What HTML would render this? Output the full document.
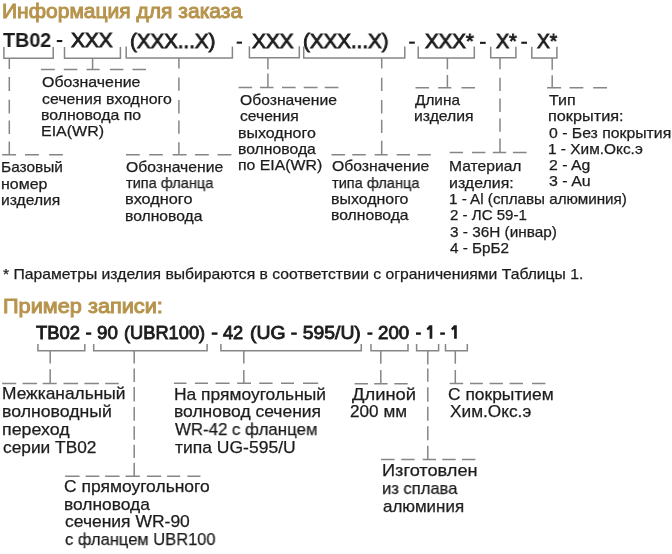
<!DOCTYPE html><html><head><meta charset='utf-8'><style>*{margin:0;padding:0}html,body{width:672px;height:554px;overflow:hidden;background:#fff}body{position:relative;font-family:'Liberation Sans',sans-serif;color:#1c1c1c}div{position:absolute;white-space:nowrap;transform-origin:0 0;will-change:transform}</style></head><body><svg width='672' height='554' style='position:absolute;left:0;top:0'><path d='M3.9 47.0V58.2H53.2V47.0M64.5 47.0V58.2H120.4V47.0M126.2 46.5V58.0H232.4V46.5M249.4 46.3V57.8H299.3V46.3M303.7 46.5V58.0H404.8V46.5M418.2 46.6V58.0H474.3V46.6M490.7 46.7V57.8H515.9V46.7M531.8 46.7V58.0H556.9V46.7M9.3 58V68.9M9.3 77.1V91M9.3 99.7V113.6M9.3 120.5V134M9.3 141.6V154.7M92.6 58V69.4M178.9 58V68.6M178.9 77.4V90.8M178.9 100.1V113.4M178.9 120.4V133.7M178.9 142.2V154.7M267.9 58V69.3M267.9 73.4V87.6M381.7 58V68.6M381.7 77.7V91M381.7 100.1V113.4M381.7 119.8V133.1M381.7 140.7V154.7M447.4 58V69.3M447.4 75.1V87.7M500.0 58V69.2M500.0 77.7V91M500.0 98.6V111.9M500.0 118.5V131.8M500.0 138.4V152.5M552.2 58V69.8M552.2 75.2V87.9M2.1 154.7H16.1M25 154.7H38.9M49.1 154.7H62.9M41 69.4H54.8M63.8 69.4H77.4M86.5 69.4H99.6M109.9 69.4H123.4M132.5 69.4H146M126 154.7H139.8M149.2 154.7H162.8M172.6 154.7H186.6M194.9 154.7H208.8M217.5 154.7H231.4M238.6 87.6H252.2M259.9 87.6H273.5M282 87.6H295.6M303.7 87.6H317.6M324.7 87.6H338.4M331.5 154.7H345M352.3 154.7H365.8M374.6 154.7H387.7M396.7 154.7H410M417.5 154.7H430.8M415.5 87.7H429M438.1 87.7H451.3M461.5 87.7H475M449.7 152.5H463M472 152.5H485.4M492.8 152.5H506.2M512.9 152.5H526.6M547.1 87.7H561.1M569.5 87.7H583.3M593.2 87.7H607M37.9 344.0V350.8H84.8V344.0M93.7 344.0V350.8H207.1V344.0M220.9 344.0V350.8H361.25V344.0M371.0 344.0V350.8H408.0V344.0M416.6 344.0V350.8H438.6V344.0M445.5 344.0V350.8H467.3V344.0M50.2 350.8V363.6M50.2 369.25V383.4M134.2 350.8V363.5M134.2 368.4V382M134.2 387V401.5M134.2 407V420.8M134.2 426.2V439.8M134.2 444.8V458M134.2 462.8V476.3M243.8 350.8V363.6M243.8 370V383.3M380.8 350.8V363.7M380.8 370V383.8M427.8 350.8V364.5M427.8 368.4V381.8M427.8 387.2V401.7M427.8 406.7V420.8M427.8 426.2V440.3M427.8 445.7V459.5M455.3 350.8V363.7M455.3 370V383.6M2.1 383.4H16.25M22.5 383.4H37.1M42.7 383.4H56.7M63.5 383.4H78.1M84.4 383.4H99M105.2 383.4H118.75M65.2 476.3H79.5M85.7 476.3H99.3M105.2 476.3H119.5M125.5 476.3H139.8M146.9 476.3H161.2M167.1 476.3H180.2M187.4 476.3H200.5M173.9 383.3H186.5M194.9 383.3H208M215.6 383.3H229.6M237.2 383.3H251M259.2 383.3H272.6M281 383.3H294M303 383.3H318.2M354.6 383.8H368M374.2 383.8H387.6M394.3 383.8H407.7M381 459.5H394.6M401.25 459.5H414.6M422.7 459.5H436M442.3 459.5H455.7M462 459.5H475.4M449.8 383.6H463.2M470 383.6H482.9M489.6 383.6H502.9M509.6 383.6H523M532 383.6H545.4' fill='none' stroke='#868686' stroke-width='1.5'/><rect x='56.8' y='40.0' width='5.5' height='2.1' fill='#1c1c1c'/><rect x='236.7' y='41.6' width='5.3' height='2.1' fill='#1c1c1c'/><rect x='409.1' y='41.6' width='5.7' height='2.1' fill='#1c1c1c'/><rect x='480' y='41.8' width='5.7' height='2.1' fill='#1c1c1c'/><rect x='521.3' y='41.7' width='5.7' height='2.1' fill='#1c1c1c'/><rect x='86.0' y='332.4' width='5.3' height='2.4' fill='#1c1c1c'/><rect x='211.7' y='332.4' width='5.8' height='2.4' fill='#1c1c1c'/><rect x='367.4' y='332.4' width='5.0' height='2.4' fill='#1c1c1c'/><rect x='416.0' y='332.4' width='4.9' height='2.4' fill='#1c1c1c'/><rect x='440.2' y='332.4' width='4.7' height='2.4' fill='#1c1c1c'/><path transform='translate(0 0)' d='M429.6 325.3H432.3V338.8H429.6V328.9L427.9 330.4L426.6 328.6Z' fill='#1c1c1c'/><path transform='translate(24.5 0)' d='M429.6 325.3H432.3V338.8H429.6V328.9L427.9 330.4L426.6 328.6Z' fill='#1c1c1c'/></svg><div style='left:2.40px;top:-0.70px;font-size:21px;line-height:24px;color:#b7944c;transform:scaleX(1.0012);-webkit-text-stroke:1.0px #b7944c;'>Информация для заказа</div><div style='left:2.77px;top:293.80px;font-size:21px;line-height:24px;color:#b7944c;transform:scaleX(1.0340);-webkit-text-stroke:1.0px #b7944c;'>Пример записи:</div><div style='left:2.80px;top:28.50px;font-size:20px;line-height:23px;font-weight:700;transform:scaleX(0.9854);'>TB02</div><div style='left:71.00px;top:27.60px;font-size:21px;line-height:24px;transform:scaleX(0.9905);-webkit-text-stroke:0.9px #1c1c1c;'>XXX</div><div style='left:130.32px;top:29.20px;font-size:21px;line-height:24px;transform:scaleX(0.9756);-webkit-text-stroke:0.9px #1c1c1c;'>(XXX...X)</div><div style='left:252.40px;top:29.20px;font-size:21px;line-height:24px;transform:scaleX(0.9881);-webkit-text-stroke:0.9px #1c1c1c;'>XXX</div><div style='left:303.32px;top:29.20px;font-size:21px;line-height:24px;transform:scaleX(0.9779);-webkit-text-stroke:0.9px #1c1c1c;'>(XXX...X)</div><div style='left:424.80px;top:29.20px;font-size:21px;line-height:24px;transform:scaleX(0.9725);-webkit-text-stroke:0.9px #1c1c1c;'>XXX*</div><div style='left:495.60px;top:29.30px;font-size:21px;line-height:24px;transform:scaleX(0.9391);-webkit-text-stroke:0.9px #1c1c1c;'>X*</div><div style='left:536.90px;top:29.30px;font-size:21px;line-height:24px;transform:scaleX(0.9130);-webkit-text-stroke:0.9px #1c1c1c;'>X*</div><div style='left:35.70px;top:322.50px;font-size:18px;line-height:21px;transform:scaleX(1.0209);-webkit-text-stroke:0.85px #1c1c1c;'>TB02</div><div style='left:97.30px;top:322.50px;font-size:18px;line-height:21px;transform:scaleX(1.0400);-webkit-text-stroke:0.85px #1c1c1c;'>90</div><div style='left:124.30px;top:322.50px;font-size:18px;line-height:21px;transform:scaleX(1.0138);-webkit-text-stroke:0.85px #1c1c1c;'>(UBR100)</div><div style='left:223.10px;top:322.50px;font-size:18px;line-height:21px;transform:scaleX(1.0100);-webkit-text-stroke:0.85px #1c1c1c;'>42</div><div style='left:250.00px;top:322.50px;font-size:18px;line-height:21px;transform:scaleX(1.0757);-webkit-text-stroke:0.85px #1c1c1c;'>(UG - 595/U)</div><div style='left:378.00px;top:322.50px;font-size:18px;line-height:21px;transform:scaleX(1.0367);-webkit-text-stroke:0.85px #1c1c1c;'>200</div><div style='left:41.60px;top:74.30px;font-size:14.6px;line-height:17px;transform:scaleX(1.0911);-webkit-text-stroke:0.25px #1c1c1c;'>Обозначение</div><div style='left:41.60px;top:90.60px;font-size:14.6px;line-height:17px;transform:scaleX(1.0874);-webkit-text-stroke:0.25px #1c1c1c;'>сечения входного</div><div style='left:40.51px;top:106.90px;font-size:14.6px;line-height:17px;transform:scaleX(1.0868);-webkit-text-stroke:0.25px #1c1c1c;'>волновода по</div><div style='left:40.50px;top:123.20px;font-size:14.6px;line-height:17px;transform:scaleX(1.0964);-webkit-text-stroke:0.25px #1c1c1c;'>EIA(WR)</div><div style='left:239.50px;top:92.00px;font-size:14.6px;line-height:17px;transform:scaleX(1.0744);-webkit-text-stroke:0.25px #1c1c1c;'>Обозначение</div><div style='left:239.50px;top:108.30px;font-size:14.6px;line-height:17px;transform:scaleX(1.0722);-webkit-text-stroke:0.25px #1c1c1c;'>сечения</div><div style='left:238.40px;top:124.60px;font-size:14.6px;line-height:17px;transform:scaleX(1.0957);-webkit-text-stroke:0.25px #1c1c1c;'>выходного</div><div style='left:238.42px;top:140.90px;font-size:14.6px;line-height:17px;transform:scaleX(1.0803);-webkit-text-stroke:0.25px #1c1c1c;'>волновода</div><div style='left:238.42px;top:157.20px;font-size:14.6px;line-height:17px;transform:scaleX(1.0842);-webkit-text-stroke:0.25px #1c1c1c;'>по EIA(WR)</div><div style='left:415.40px;top:91.90px;font-size:14.6px;line-height:17px;transform:scaleX(1.0512);-webkit-text-stroke:0.25px #1c1c1c;'>Длина</div><div style='left:414.32px;top:108.20px;font-size:14.6px;line-height:17px;transform:scaleX(1.0796);-webkit-text-stroke:0.25px #1c1c1c;'>изделия</div><div style='left:548.90px;top:91.90px;font-size:14.6px;line-height:17px;transform:scaleX(1.0958);-webkit-text-stroke:0.25px #1c1c1c;'>Тип</div><div style='left:547.78px;top:108.20px;font-size:14.6px;line-height:17px;transform:scaleX(1.1152);-webkit-text-stroke:0.25px #1c1c1c;'>покрытия:</div><div style='left:548.90px;top:124.50px;font-size:14.6px;line-height:17px;transform:scaleX(1.0821);-webkit-text-stroke:0.25px #1c1c1c;'>0 - Без покрытия</div><div style='left:547.84px;top:140.80px;font-size:14.6px;line-height:17px;transform:scaleX(1.0557);-webkit-text-stroke:0.25px #1c1c1c;'>1 - Хим.Окс.э</div><div style='left:548.90px;top:157.10px;font-size:14.6px;line-height:17px;transform:scaleX(1.0816);-webkit-text-stroke:0.25px #1c1c1c;'>2 - Ag</div><div style='left:548.90px;top:173.40px;font-size:14.6px;line-height:17px;transform:scaleX(1.0921);-webkit-text-stroke:0.25px #1c1c1c;'>3 - Au</div><div style='left:1.44px;top:159.30px;font-size:14.6px;line-height:17px;transform:scaleX(1.0579);-webkit-text-stroke:0.25px #1c1c1c;'>Базовый</div><div style='left:1.41px;top:175.60px;font-size:14.6px;line-height:17px;transform:scaleX(1.0927);-webkit-text-stroke:0.25px #1c1c1c;'>номер</div><div style='left:1.43px;top:191.90px;font-size:14.6px;line-height:17px;transform:scaleX(1.0722);-webkit-text-stroke:0.25px #1c1c1c;'>изделия</div><div style='left:126.20px;top:158.60px;font-size:14.6px;line-height:17px;transform:scaleX(1.0767);-webkit-text-stroke:0.25px #1c1c1c;'>Обозначение</div><div style='left:126.20px;top:174.90px;font-size:14.6px;line-height:17px;transform:scaleX(0.9943);-webkit-text-stroke:0.25px #1c1c1c;'>типа фланца</div><div style='left:125.08px;top:191.20px;font-size:14.6px;line-height:17px;transform:scaleX(1.1153);-webkit-text-stroke:0.25px #1c1c1c;'>входного</div><div style='left:125.13px;top:207.50px;font-size:14.6px;line-height:17px;transform:scaleX(1.0746);-webkit-text-stroke:0.25px #1c1c1c;'>волновода</div><div style='left:332.10px;top:158.20px;font-size:14.6px;line-height:17px;transform:scaleX(1.0778);-webkit-text-stroke:0.25px #1c1c1c;'>Обозначение</div><div style='left:332.10px;top:174.50px;font-size:14.6px;line-height:17px;transform:scaleX(0.9955);-webkit-text-stroke:0.25px #1c1c1c;'>типа фланца</div><div style='left:331.01px;top:190.80px;font-size:14.6px;line-height:17px;transform:scaleX(1.0914);-webkit-text-stroke:0.25px #1c1c1c;'>выходного</div><div style='left:331.02px;top:207.10px;font-size:14.6px;line-height:17px;transform:scaleX(1.0761);-webkit-text-stroke:0.25px #1c1c1c;'>волновода</div><div style='left:449.13px;top:158.40px;font-size:14.6px;line-height:17px;transform:scaleX(1.0712);-webkit-text-stroke:0.25px #1c1c1c;'>Материал</div><div style='left:449.11px;top:174.70px;font-size:14.6px;line-height:17px;transform:scaleX(1.0912);-webkit-text-stroke:0.25px #1c1c1c;'>изделия:</div><div style='left:449.16px;top:191.00px;font-size:14.6px;line-height:17px;transform:scaleX(1.0408);-webkit-text-stroke:0.25px #1c1c1c;'>1 - Al (сплавы алюминия)</div><div style='left:450.20px;top:207.30px;font-size:14.6px;line-height:17px;transform:scaleX(1.0324);-webkit-text-stroke:0.25px #1c1c1c;'>2 - ЛС 59-1</div><div style='left:450.20px;top:223.60px;font-size:14.6px;line-height:17px;transform:scaleX(1.0505);-webkit-text-stroke:0.25px #1c1c1c;'>3 - 36Н (инвар)</div><div style='left:450.20px;top:239.90px;font-size:14.6px;line-height:17px;transform:scaleX(1.0464);-webkit-text-stroke:0.25px #1c1c1c;'>4 - БрБ2</div><div style='left:2.60px;top:265.70px;font-size:14.6px;line-height:17px;transform:scaleX(1.0766);-webkit-text-stroke:0.25px #1c1c1c;'>* Параметры изделия выбираются в соответствии с ограничениями Таблицы 1.</div><div style='left:1.98px;top:384.40px;font-size:17px;line-height:20px;transform:scaleX(1.0210);-webkit-text-stroke:0.25px #1c1c1c;'>Межканальный</div><div style='left:1.96px;top:402.20px;font-size:17px;line-height:20px;transform:scaleX(1.0404);-webkit-text-stroke:0.25px #1c1c1c;'>волноводный</div><div style='left:1.95px;top:420.00px;font-size:17px;line-height:20px;transform:scaleX(1.0469);-webkit-text-stroke:0.25px #1c1c1c;'>переход</div><div style='left:3.00px;top:437.80px;font-size:17px;line-height:20px;transform:scaleX(1.0187);-webkit-text-stroke:0.25px #1c1c1c;'>серии TB02</div><div style='left:174.18px;top:384.50px;font-size:17px;line-height:20px;transform:scaleX(1.0247);-webkit-text-stroke:0.25px #1c1c1c;'>На прямоугольный</div><div style='left:174.17px;top:402.30px;font-size:17px;line-height:20px;transform:scaleX(1.0277);-webkit-text-stroke:0.25px #1c1c1c;'>волновод сечения</div><div style='left:175.20px;top:420.10px;font-size:17px;line-height:20px;transform:scaleX(0.9902);-webkit-text-stroke:0.25px #1c1c1c;'>WR-42 с фланцем</div><div style='left:175.20px;top:437.90px;font-size:17px;line-height:20px;transform:scaleX(1.0293);-webkit-text-stroke:0.25px #1c1c1c;'>типа UG-595/U</div><div style='left:351.50px;top:384.60px;font-size:17px;line-height:20px;transform:scaleX(1.0810);-webkit-text-stroke:0.25px #1c1c1c;'>Длиной</div><div style='left:350.49px;top:402.40px;font-size:17px;line-height:20px;transform:scaleX(1.0091);-webkit-text-stroke:0.25px #1c1c1c;'>200 мм</div><div style='left:448.48px;top:384.60px;font-size:17px;line-height:20px;transform:scaleX(1.0248);-webkit-text-stroke:0.25px #1c1c1c;'>С покрытием</div><div style='left:449.50px;top:402.40px;font-size:17px;line-height:20px;transform:scaleX(1.0150);-webkit-text-stroke:0.25px #1c1c1c;'>Хим.Окс.э</div><div style='left:64.17px;top:477.00px;font-size:17px;line-height:20px;transform:scaleX(1.0270);-webkit-text-stroke:0.25px #1c1c1c;'>С прямоугольного</div><div style='left:64.18px;top:494.70px;font-size:17px;line-height:20px;transform:scaleX(1.0229);-webkit-text-stroke:0.25px #1c1c1c;'>волновода</div><div style='left:65.20px;top:512.40px;font-size:17px;line-height:20px;transform:scaleX(1.0281);-webkit-text-stroke:0.25px #1c1c1c;'>сечения WR-90</div><div style='left:65.20px;top:530.10px;font-size:17px;line-height:20px;transform:scaleX(0.9697);-webkit-text-stroke:0.25px #1c1c1c;'>с фланцем UBR100</div><div style='left:381.93px;top:461.10px;font-size:17px;line-height:20px;transform:scaleX(1.0693);-webkit-text-stroke:0.25px #1c1c1c;'>Изготовлен</div><div style='left:382.03px;top:479.10px;font-size:17px;line-height:20px;transform:scaleX(0.9740);-webkit-text-stroke:0.25px #1c1c1c;'>из сплава</div><div style='left:383.00px;top:497.10px;font-size:17px;line-height:20px;transform:scaleX(0.9987);-webkit-text-stroke:0.25px #1c1c1c;'>алюминия</div></body></html>
